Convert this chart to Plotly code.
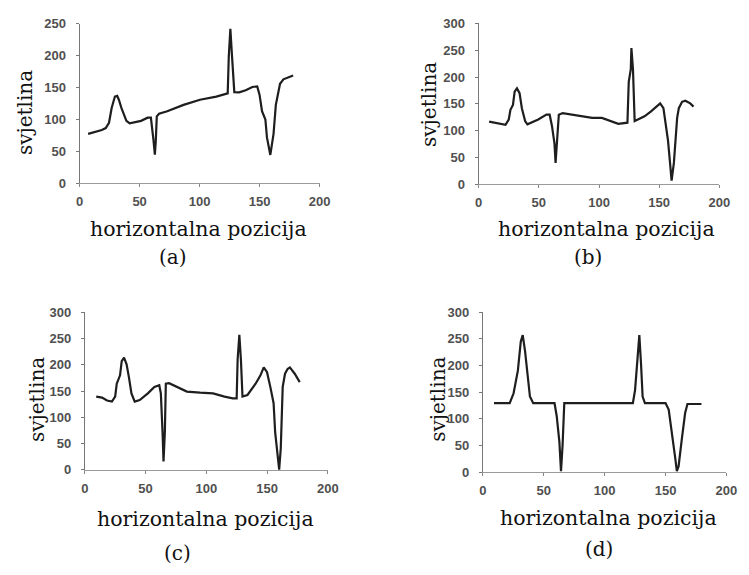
import plotly.graph_objects as go

# ---- data ----
xa = [7.1, 11.7, 18.5, 21.8, 24.5, 26.7, 29.4, 31.3, 32.7, 34.9, 39, 41.7, 44.4, 51.2, 56.7, 59.4,
      61.6, 62.7, 63.5, 64.3, 66.2, 73, 86.6, 100.3, 113.9, 123.4, 124.3, 125.6, 127, 128.9, 133,
      138.4, 143.9, 148, 149.9, 152, 154.8, 156.1, 158.9, 161.6, 163.5, 165.7, 167, 169.8, 173.8, 177.9]
ya = [77.6, 80, 83.7, 86.7, 95, 118, 136, 137, 131, 118, 98, 94, 95, 98, 103, 103,
      67, 45, 67, 105, 109, 113, 123, 131, 136, 141, 199, 242, 199, 143, 142.5,
      146, 151, 152, 139, 113, 100, 72, 44.6, 77.6, 123, 141, 156, 163, 166, 169]

xb = [8.7, 14.1, 19.6, 22.3, 25, 26.4, 28.5, 29.9, 31.8, 34, 35.9, 38.6, 40.5, 44, 49.5, 56.3, 59,
      60.9, 63, 63.9, 65, 66.6, 69.8, 78, 86.1, 94.3, 102.4, 110.6, 116, 123.6, 124.7, 126.4, 126.9,
      128.2, 129.6, 132.3, 137.8, 143.2, 148.6, 150.8, 153.5, 155.4, 157.3, 159, 160.3, 162.2, 163.6,
      164.9, 166.3, 169, 171.7, 175.8, 178.5]
yb = [117, 115, 112, 111, 121, 139, 148, 173, 179, 170, 142, 118, 112, 115, 121, 130, 130,
      109, 76, 40, 76, 130, 133, 130, 127, 124, 124, 118, 113, 115, 191, 215, 254,
      215, 118, 121, 127, 136, 148, 151, 142, 112, 82, 40, 7, 40, 88,
      124, 142, 154, 156, 151, 145]

xc = [9.4, 14.2, 18.3, 22.3, 25, 26.3, 29, 30.4, 32.3, 34.4, 36.3, 38.4, 41.1, 45.2, 51.9, 57.3, 61.3,
      62.6, 64, 64.8, 65.9, 66.7, 69.4, 76, 84, 94.9, 105.6, 115, 121.8, 125, 125.8, 127.2, 128.5,
      129.8, 133.9, 140.6, 144.6, 147.3, 150, 152.7, 155.4, 156.7, 158.9, 160, 161.3, 162.9, 164.8,
      166.9, 168.8, 172.8, 176.9]
yc = [139.5, 137.7, 132, 130, 139.5, 164, 180, 207, 213.6, 201, 176.5, 145.7, 130, 133, 145.7, 158, 161,
      145.7, 71.6, 16, 71.6, 164, 165, 158, 149, 147, 145.7, 139.5, 136, 136, 210, 257, 210,
      139.5, 142.6, 164, 180, 195, 186, 158, 127, 71.6, 22, 0.6, 40.7, 158, 183,
      192, 195, 183, 167]

xd = [9.2, 22.1, 25.3, 28.8, 31.2, 32.8, 34.7, 36.6, 38.7, 41.4, 58.9, 60.7, 62.9, 64.2, 65.5, 66.9,
      123.2, 125, 126.6, 128.5, 129.9, 131.2, 133.1, 150, 152.6, 155.3, 158, 159.3, 160.7, 163.4,
      166.1, 168, 179.5]
yd = [129.6, 129.6, 148, 190.5, 245, 257, 227, 184, 142, 129.6, 129.6, 105, 56.6, 2, 50.5, 129.6,
      129.6, 154, 209, 257, 203, 142, 129.6, 129.6, 117.5, 75, 26, 2, 11, 62.7,
      111, 128, 128]

x_ticks = [0, 50, 100, 150, 200]
y_ticks_a = [0, 50, 100, 150, 200, 250]
y_ticks_bcd = [0, 50, 100, 150, 200, 250, 300]

x_title = "horizontalna pozicija"
y_title = "svjetlina"
panel_labels = ["(a)", "(b)", "(c)", "(d)"]

# ---- layout geometry (pixels in the 749x575 window) ----
# the page body has an 8px default margin, so the figure starts at (8, 8)
OFF = 8
W, H = 749 - OFF, 575 - OFF
def fx(p):
    return (p - OFF) / W
def fy(p):
    return 1 - (p - OFF) / H

# (x0px, x200px, ybottom_px, ytop_px, ymax)
panels = [
    (77.0, 322.0, 181.0, 17.0, 250),
    (484.3, 730.0, 182.0, 16.7, 300),
    (82.3, 330.3, 475.3, 313.3, 300),
    (488.5, 737.2, 477.7, 313.3, 300),
]
series = [(xa, ya), (xb, yb), (xc, yc), (xd, yd)]
ytick_sets = [y_ticks_a, y_ticks_bcd, y_ticks_bcd, y_ticks_bcd]

# label positions (pixel centres)
ytitle_pos = [(22, 108), (433, 100), (33, 403), (442, 403)]
xtitle_pos = [(198, 228), (615, 228), (206, 526), (617, 525)]
plabel_pos = [(172, 257), (596, 257), (177, 561), (607, 557)]

tick_font = dict(family="Liberation Sans, Arial, sans-serif", size=13, color="#505050",
                 weight="bold")
serif = "DejaVu Serif, serif"

fig = go.Figure()
layout = dict(
    width=W, height=H,
    margin=dict(l=0, r=0, t=0, b=0),
    paper_bgcolor="white", plot_bgcolor="white",
    showlegend=False,
    annotations=[],
)

for i, ((x0, x1, yb_, yt_, ymax), (xs, ys), yt) in enumerate(zip(panels, series, ytick_sets)):
    n = "" if i == 0 else str(i + 1)
    fig.add_trace(go.Scatter(
        x=xs, y=ys, mode="lines",
        line=dict(color="#1e1e1e", width=2.2),
        xaxis="x" + n, yaxis="y" + n, hoverinfo="skip",
    ))
    layout["xaxis" + n] = dict(
        domain=[fx(x0), fx(x1)], range=[0, 200], anchor="y" + n,
        tickvals=x_ticks, ticks="outside", ticklen=3, tickcolor="#888888",
        showline=True, linecolor="#9a9a9a", linewidth=1,
        showgrid=False, zeroline=False, tickfont=tick_font, ticklabelstandoff=3,
    )
    layout["yaxis" + n] = dict(
        domain=[fy(yb_), fy(yt_)], range=[0, ymax], anchor="x" + n,
        tickvals=yt, ticks="outside", ticklen=3, tickcolor="#777777",
        showline=True, linecolor="#777777", linewidth=1,
        showgrid=False, zeroline=False, tickfont=tick_font, ticklabelstandoff=7,
    )
    tx, ty = ytitle_pos[i]
    layout["annotations"].append(dict(
        text=y_title, x=fx(tx), y=fy(ty), xref="paper", yref="paper",
        showarrow=False, textangle=-90, xanchor="center", yanchor="middle",
        font=dict(family=serif, size=20, color="#111111"),
    ))
    tx, ty = xtitle_pos[i]
    layout["annotations"].append(dict(
        text=x_title, x=fx(tx), y=fy(ty), xref="paper", yref="paper",
        showarrow=False, xanchor="center", yanchor="middle",
        font=dict(family=serif, size=20.5, color="#111111"),
    ))
    tx, ty = plabel_pos[i]
    layout["annotations"].append(dict(
        text=panel_labels[i], x=fx(tx), y=fy(ty), xref="paper", yref="paper",
        showarrow=False, xanchor="center", yanchor="middle",
        font=dict(family=serif, size=20, color="#111111"),
    ))

fig.update_layout(**layout)
fig.write_html("out.html")
